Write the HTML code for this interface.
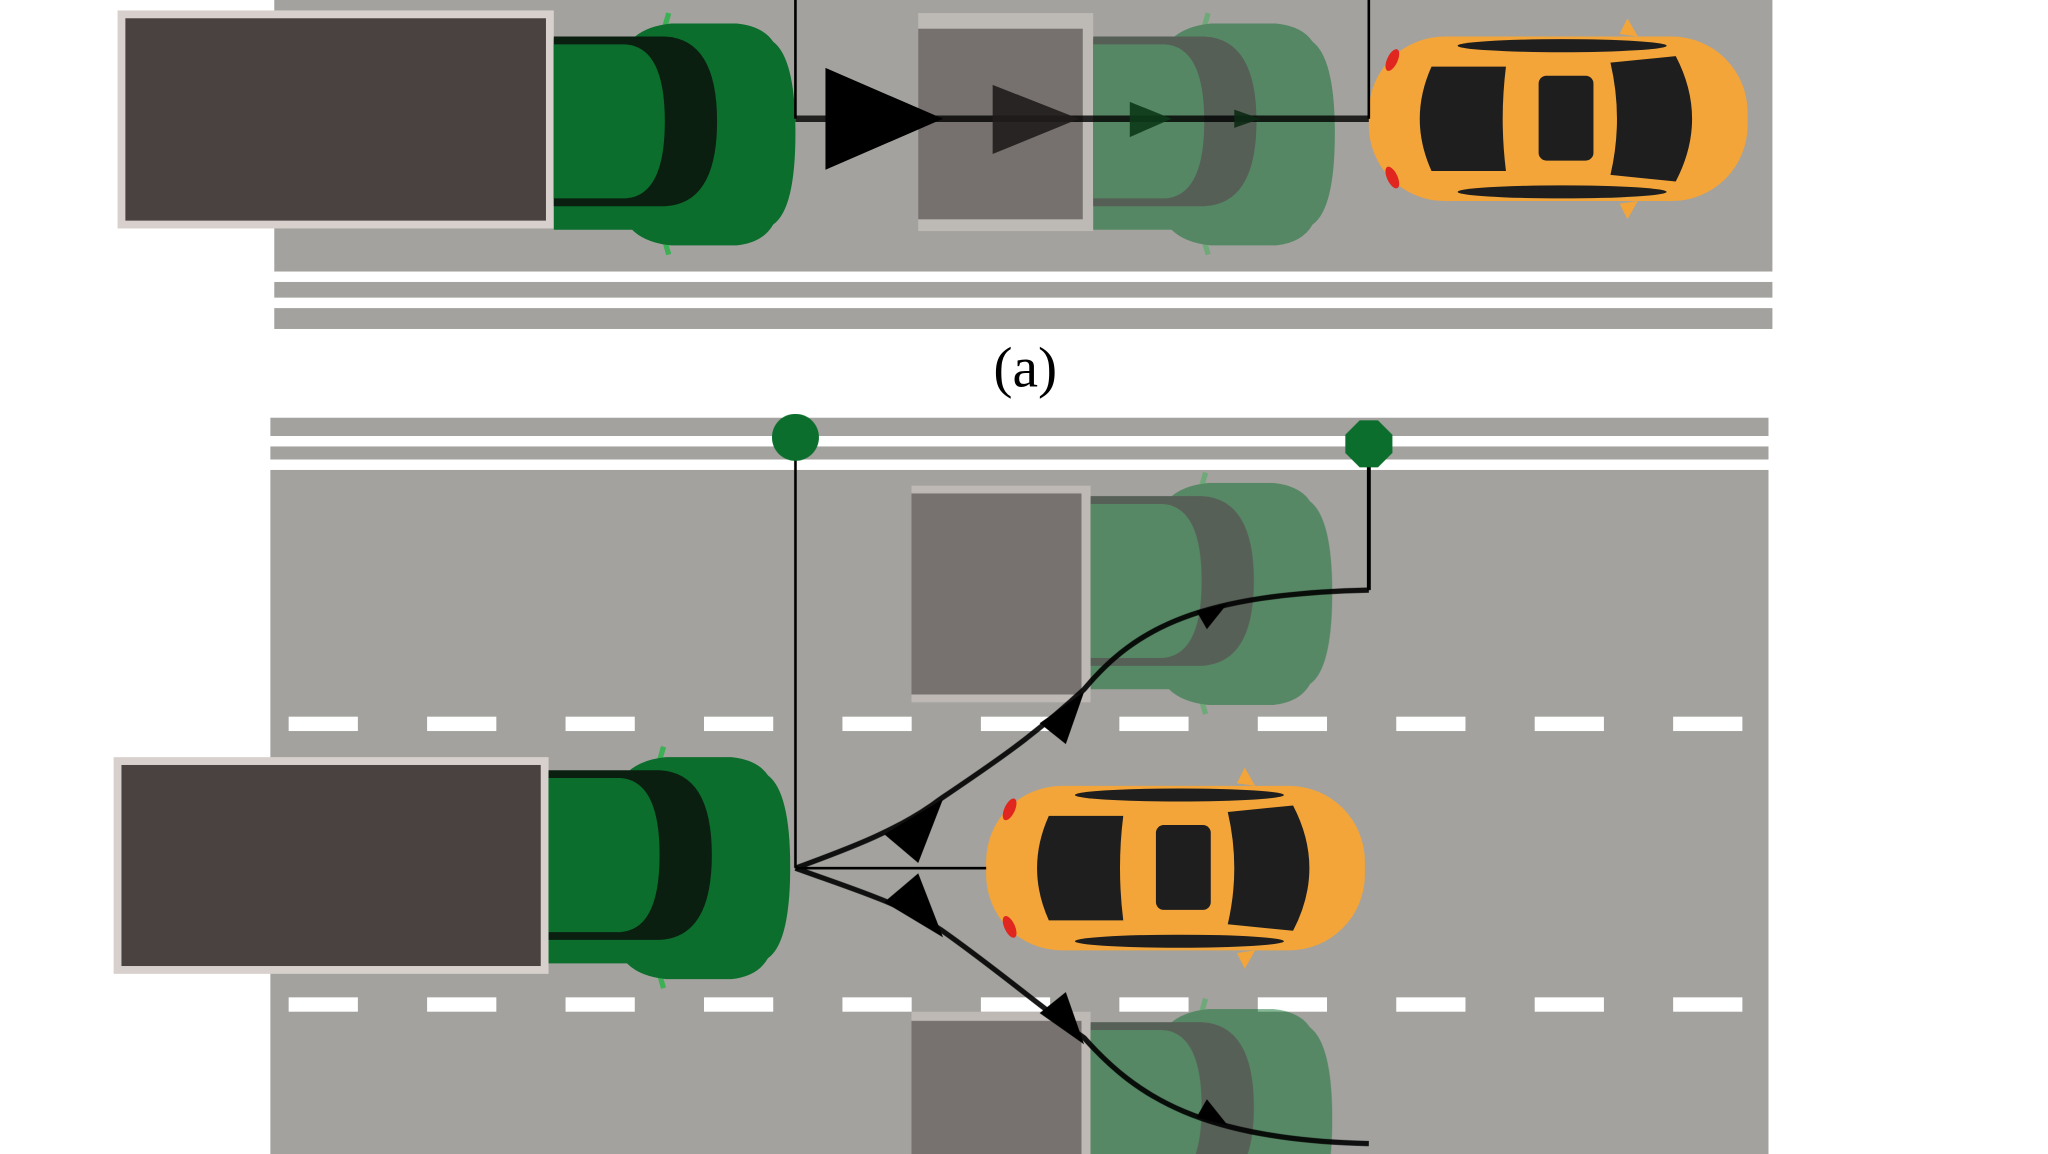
<!DOCTYPE html>
<html><head><meta charset="utf-8"><style>
html,body{margin:0;padding:0;background:#fff;overflow:hidden;width:2048px;height:1154px;}
svg{display:block;}
</style></head><body>
<svg width="2048" height="1154" viewBox="0 0 1568 884" preserveAspectRatio="none" xmlns="http://www.w3.org/2000/svg">
<defs>
  <g id="gcar">
    <line x1="88" y1="0" x2="84" y2="14" stroke="#3cb054" stroke-width="4"/>
    <line x1="88" y1="185" x2="84" y2="171" stroke="#3cb054" stroke-width="4"/>
    <path d="M0 20 L60 20 Q70 10 90 8 L140 8 Q160 10 168 22 Q185 35 185 92 Q185 150 168 162 Q160 176 140 178 L90 178 Q70 176 60 166 L0 166 Z" fill="#0b6e2c"/>
    <path d="M0 18 L85 18 Q125 20 125 83 Q125 146 85 148 L0 148 Z" fill="#0a1f10"/>
    <path d="M0 24 L55 24 Q85 26 85 83 Q85 140 55 142 L0 142 Z" fill="#0b6e2c"/>
  </g>
  <g id="ocar">
    <path d="M192 8 L198 -4 L206 10 Z" fill="#f3a53a"/>
    <path d="M192 138 L198 150 L206 136 Z" fill="#f3a53a"/>
    <rect x="0" y="10" width="290" height="126" rx="58" fill="#f3a53a"/>
    <ellipse cx="148" cy="17" rx="80" ry="5" fill="#1e1e1e"/>
    <ellipse cx="148" cy="129" rx="80" ry="5" fill="#1e1e1e"/>
    <path d="M48 33 L105 33 Q100 73 105 113 L48 113 Q30 73 48 33 Z" fill="#1e1e1e"/>
    <rect x="130" y="40" width="42" height="65" rx="6" fill="#1e1e1e"/>
    <path d="M185 30 L235 25 Q260 73 235 121 L185 116 Q195 73 185 30 Z" fill="#1e1e1e"/>
    <ellipse cx="18" cy="28" rx="4" ry="9" fill="#e0261f" transform="rotate(25 18 28)"/>
    <ellipse cx="18" cy="118" rx="4" ry="9" fill="#e0261f" transform="rotate(-25 18 118)"/>
  </g>
</defs>

<!-- TOP ROAD -->
<rect x="210" y="0" width="1147" height="208" fill="#a3a29e"/>
<rect x="210" y="216" width="1147" height="12" fill="#a3a29e"/>
<rect x="210" y="236" width="1147" height="16" fill="#a3a29e"/>

<rect x="90" y="8" width="334" height="167" fill="#d8d0cc"/>
<rect x="96" y="14" width="322" height="155" fill="#4a4240"/>
<use href="#gcar" x="424" y="10"/>

<g opacity="0.5">
<rect x="703" y="10" width="134" height="167" fill="#d8d0cc"/>
<rect x="703" y="22" width="126" height="146" fill="#4a4240"/>
<use href="#gcar" x="837" y="10"/>
</g>
<use href="#ocar" x="1048" y="18"/>

<line x1="609" y1="0" x2="609" y2="91" stroke="#000" stroke-width="2"/>
<line x1="1048" y1="0" x2="1048" y2="91" stroke="#000" stroke-width="2"/>
<line x1="609" y1="91" x2="1048" y2="91" stroke="#000" stroke-width="5" opacity="0.8"/>
<polygon points="632,52 722,91 632,130" fill="#000"/>
<polygon points="760,65 826,91 760,118" fill="#1f1c1b" opacity="0.9"/>
<polygon points="865,78 897,91 865,105" fill="#0c3a18" opacity="0.9"/>
<polygon points="945,84 965,91 945,98" fill="#0c2a14" opacity="0.9"/>

<text x="785" y="296" font-family="Liberation Serif, serif" font-size="44" text-anchor="middle" fill="#000">(a)</text>

<!-- BOTTOM ROAD -->
<rect x="207" y="320" width="1147" height="14" fill="#a3a29e"/>
<rect x="207" y="342" width="1147" height="10" fill="#a3a29e"/>
<rect x="207" y="360" width="1147" height="524" fill="#a3a29e"/>
<g fill="#fff">
  <rect x="221" y="549" width="53" height="11"/><rect x="327" y="549" width="53" height="11"/><rect x="433" y="549" width="53" height="11"/><rect x="539" y="549" width="53" height="11"/><rect x="645" y="549" width="53" height="11"/><rect x="751" y="549" width="53" height="11"/><rect x="857" y="549" width="53" height="11"/><rect x="963" y="549" width="53" height="11"/><rect x="1069" y="549" width="53" height="11"/><rect x="1175" y="549" width="53" height="11"/><rect x="1281" y="549" width="53" height="11"/>
  <rect x="221" y="764" width="53" height="11"/><rect x="327" y="764" width="53" height="11"/><rect x="433" y="764" width="53" height="11"/><rect x="539" y="764" width="53" height="11"/><rect x="645" y="764" width="53" height="11"/><rect x="751" y="764" width="53" height="11"/><rect x="857" y="764" width="53" height="11"/><rect x="963" y="764" width="53" height="11"/><rect x="1069" y="764" width="53" height="11"/><rect x="1175" y="764" width="53" height="11"/><rect x="1281" y="764" width="53" height="11"/>
</g>

<g opacity="0.5">
<rect x="698" y="372" width="137" height="166" fill="#d8d0cc"/>
<rect x="698" y="378" width="130" height="154" fill="#4a4240"/>
<use href="#gcar" x="835" y="362"/>
<rect x="698" y="775" width="137" height="120" fill="#d8d0cc"/>
<rect x="698" y="782" width="130" height="110" fill="#4a4240"/>
<use href="#gcar" x="835" y="765"/>
</g>

<rect x="87" y="580" width="333" height="166" fill="#d8d0cc"/>
<rect x="93" y="586" width="321" height="154" fill="#4a4240"/>
<use href="#gcar" x="420" y="572"/>
<use href="#ocar" x="755" y="592"/>

<line x1="609" y1="335" x2="609" y2="665" stroke="#000" stroke-width="2"/>
<line x1="609" y1="665" x2="755" y2="665" stroke="#000" stroke-width="2"/>
<line x1="1048" y1="340" x2="1048" y2="452" stroke="#000" stroke-width="3"/>
<path d="M609 665 C650 650 690 635 720 612 C760 585 790 565 830 528 C870 480 920 455 1048 452" fill="none" stroke="#000" stroke-width="4" opacity="0.9"/>
<path d="M609 665 C650 680 690 692 720 712 C760 740 795 770 830 795 C870 840 920 873 1048 876" fill="none" stroke="#000" stroke-width="4" opacity="0.9"/>
<g fill="#000">
<polygon points="722,612 703,661 677,639"/>
<polygon points="830,530 816,570 796,554"/>
<polygon points="940,462 924,482 916,468"/>
<polygon points="722,718 703,669 677,691"/>
<polygon points="830,800 816,760 796,776"/>
<polygon points="940,862 924,842 916,856"/>
</g>

<circle cx="609" cy="335" r="18" fill="#0b6e2c"/>
<polygon points="1041,322 1055,322 1066,333 1066,347 1055,358 1041,358 1030,347 1030,333" fill="#0b6e2c"/>
</svg>
</body></html>
